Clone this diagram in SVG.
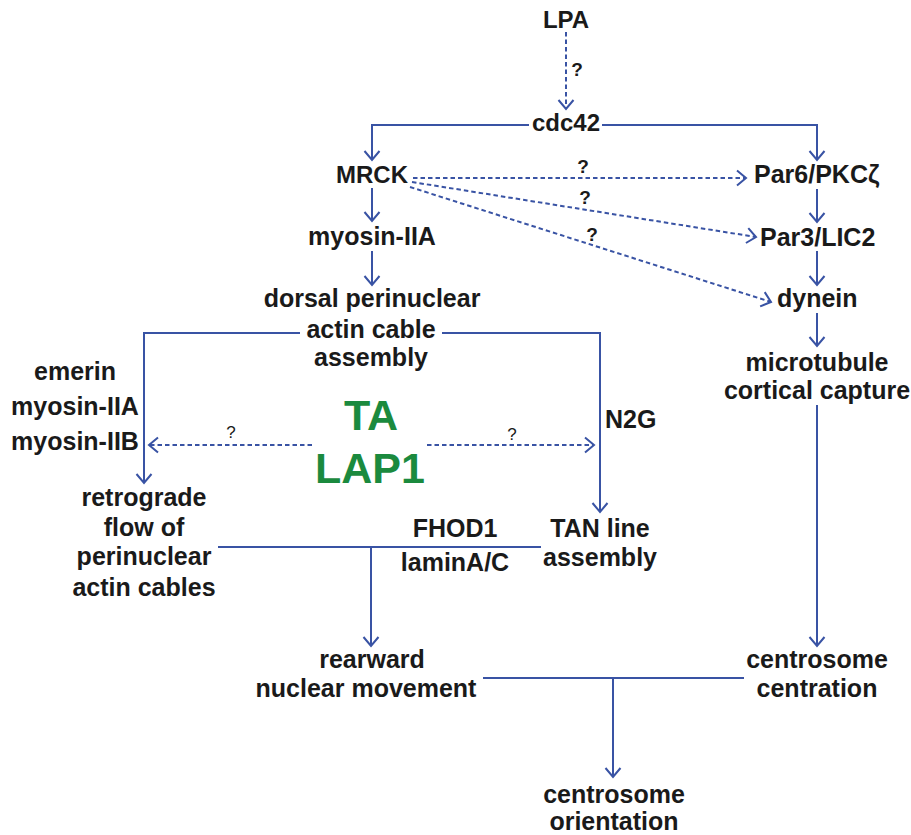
<svg xmlns="http://www.w3.org/2000/svg" width="911" height="835" viewBox="0 0 911 835">
<style>
.t{font-family:"Liberation Sans",Arial,sans-serif;font-weight:bold;font-size:25px;fill:#1a1a1a;text-anchor:middle}
.s{font-family:"Liberation Sans",Arial,sans-serif;font-weight:bold;font-size:24px;fill:#1a1a1a;text-anchor:middle}
.g{font-family:"Liberation Sans",Arial,sans-serif;font-weight:bold;font-size:43px;fill:#1b8a3e;text-anchor:middle}
.q{font-family:"Liberation Sans",Arial,sans-serif;font-weight:bold;font-size:19px;fill:#1a1a1a;text-anchor:middle}
.qr{font-family:"Liberation Sans",Arial,sans-serif;font-size:17px;fill:#1a1a1a;text-anchor:middle}
.l{fill:none;stroke:#3953a4;stroke-width:2}
.d{fill:none;stroke:#3953a4;stroke-width:2;stroke-dasharray:4.5 3}
</style>
<defs>
<marker id="ah" markerWidth="12" markerHeight="18" refX="10" refY="9" orient="auto" markerUnits="userSpaceOnUse">
<path d="M1,1.5 L10,9 L1,16.5" fill="none" stroke="#3953a4" stroke-width="2"/>
</marker>
</defs>
<rect width="911" height="835" fill="#ffffff"/>
<g id="connectors">
<path class="d" d="M566,32 V109" marker-end="url(#ah)"/>
<path class="l" d="M529,125 H372 V160" marker-end="url(#ah)"/>
<path class="l" d="M602,125 H817 V160" marker-end="url(#ah)"/>
<path class="d" d="M413,178 H746" marker-end="url(#ah)"/>
<path class="d" d="M412,182 L756,237" marker-end="url(#ah)"/>
<path class="d" d="M410,187 L771,302" marker-end="url(#ah)"/>
<path class="l" d="M372,188 V221" marker-end="url(#ah)"/>
<path class="l" d="M372,251 V285" marker-end="url(#ah)"/>
<path class="l" d="M817,189 V222" marker-end="url(#ah)"/>
<path class="l" d="M817,251 V285" marker-end="url(#ah)"/>
<path class="l" d="M817,313 V346" marker-end="url(#ah)"/>
<path class="l" d="M300,333 H144 V483" marker-end="url(#ah)"/>
<path class="l" d="M442,333 H600 V512" marker-end="url(#ah)"/>
<path class="d" d="M312,445 H149" marker-end="url(#ah)"/>
<path class="d" d="M427,445 H594" marker-end="url(#ah)"/>
<path class="l" d="M218,547 H541"/>
<path class="l" d="M371,547 V646" marker-end="url(#ah)"/>
<path class="l" d="M817,405 V646" marker-end="url(#ah)"/>
<path class="l" d="M483,678 H744"/>
<path class="l" d="M613,678 V777" marker-end="url(#ah)"/>
</g>
<g id="q-labels">
<text class="q" x="577" y="76">?</text>
<text class="q" x="583" y="173">?</text>
<text class="q" x="585" y="204">?</text>
<text class="q" x="592" y="241">?</text>
<text class="qr" x="231" y="438">?</text>
<text class="qr" x="512" y="440">?</text>
</g>
<g id="LPA"><text class="s" x="566" y="28">LPA</text></g>
<g id="cdc42"><text class="s" x="566" y="131">cdc42</text></g>
<g id="MRCK"><text class="s" x="372" y="183">MRCK</text></g>
<g id="Par6"><text class="t" x="754" y="183" style="text-anchor:start">Par6/PKCζ</text></g>
<g id="myosinIIA"><text class="t" x="372" y="245">myosin-IIA</text></g>
<g id="Par3"><text class="t" x="760" y="246" style="text-anchor:start">Par3/LIC2</text></g>
<g id="dorsal">
<text class="t" x="372" y="307">dorsal perinuclear</text>
<text class="t" x="371" y="338">actin cable</text>
<text class="t" x="371" y="366">assembly</text>
</g>
<g id="dynein"><text class="t" x="777" y="307" style="text-anchor:start">dynein</text></g>
<g id="microtubule">
<text class="t" x="817" y="371">microtubule</text>
<text class="t" x="817" y="399">cortical capture</text>
</g>
<g id="left-factors">
<text class="t" x="75" y="380">emerin</text>
<text class="t" x="75" y="415">myosin-IIA</text>
<text class="t" x="75" y="450">myosin-IIB</text>
</g>
<g id="TALAP1">
<text class="g" x="371" y="430">TA</text>
<text class="g" x="370" y="483">LAP1</text>
</g>
<g id="N2G"><text class="t" x="605" y="428" style="text-anchor:start">N2G</text></g>
<g id="retrograde">
<text class="t" x="144" y="506">retrograde</text>
<text class="t" x="144" y="536">flow of</text>
<text class="t" x="144" y="565">perinuclear</text>
<text class="t" x="144" y="596">actin cables</text>
</g>
<g id="FHOD1">
<text class="t" x="455" y="537">FHOD1</text>
<text class="t" x="455" y="571">laminA/C</text>
</g>
<g id="TAN">
<text class="t" x="600" y="537">TAN line</text>
<text class="t" x="600" y="566">assembly</text>
</g>
<g id="rearward">
<text class="t" x="372" y="668">rearward</text>
<text class="t" x="366" y="697">nuclear movement</text>
</g>
<g id="centration">
<text class="t" x="817" y="668">centrosome</text>
<text class="t" x="817" y="697">centration</text>
</g>
<g id="orientation">
<text class="t" x="614" y="803">centrosome</text>
<text class="t" x="614" y="830">orientation</text>
</g>
</svg>
